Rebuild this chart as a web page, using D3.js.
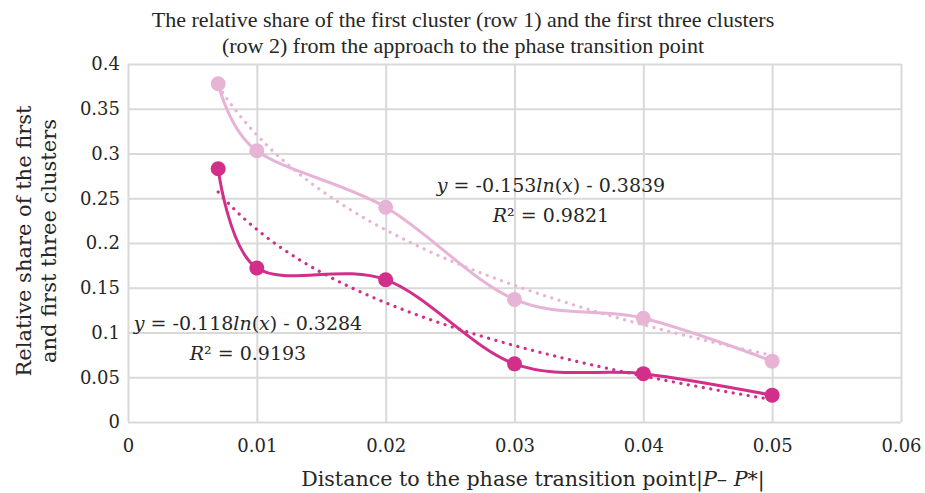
<!DOCTYPE html>
<html lang="en">

<head>
    <meta charset="UTF-8">
    <script src="https://cdn.jsdelivr.net/npm/d3@7"></script>
    <style>
        * {
            margin: 0;
            padding: 0;
        }

        body {
            background: #ffffff;
        }

        text {
            font-family: "DejaVu Serif", serif;
            fill: #262626;
        }
    </style>
    <title>Phase transition chart</title>
</head>

<body>
    <script>
        const width = 925;
        const height = 493;
        const margin = { left: 128, right: 24, top: 64, bottom: 71 };

        // data
        const distances = [0.007, 0.01, 0.02, 0.03, 0.04, 0.05];
        const rowTwo = [0.378, 0.303, 0.240, 0.137, 0.116, 0.068];   // first three clusters
        const rowOne = [0.283, 0.172, 0.159, 0.065, 0.054, 0.030];   // first cluster
        const xTicks = [0, 0.01, 0.02, 0.03, 0.04, 0.05, 0.06];
        const yTicks = [0, 0.05, 0.1, 0.15, 0.2, 0.25, 0.3, 0.35, 0.4];
        const yTickLabels = ["0", "0.05", "0.1", "0.15", "0..2", "0.25", "0.3", "0.35", "0.4"];
        // log trendlines as printed on the chart: y = a ln(x) + b
        const trendTwo = [-0.153, -0.3839];
        const trendOne = [-0.118, -0.3284];

        const lightColor = "#e8b4d6";
        const darkColor = "#d22f8a";

        const x = d3.scaleLinear().domain([0, 0.06]).range([margin.left, width - margin.right]);
        const y = d3.scaleLinear().domain([0, 0.4]).range([height - margin.bottom, margin.top]);

        const svg = d3.select("body")
            .append("svg")
            .attr("width", width)
            .attr("height", height);

        // grid
        const xAxis = svg.append("g")
            .attr("transform", `translate(0,${height - margin.bottom})`)
            .call(d3.axisBottom(x).tickValues(xTicks).tickSize(-(height - margin.top - margin.bottom))
                .tickFormat(d => d === 0 ? "0" : d3.format(".2f")(d)));
        xAxis.select(".domain").remove();
        xAxis.selectAll("line").attr("stroke", "#d9d9d9").attr("stroke-width", 2);
        xAxis.selectAll("text").attr("font-size", 18).attr("y", 30).attr("dy", 0).attr("fill", "#262626")
            .style("font-family", "DejaVu Serif");

        const yAxis = svg.append("g")
            .attr("transform", `translate(${margin.left},0)`)
            .call(d3.axisLeft(y).tickValues(yTicks).tickSize(-(width - margin.left - margin.right))
                .tickFormat((d, i) => yTickLabels[i]));
        yAxis.select(".domain").remove();
        yAxis.selectAll("line").attr("stroke", "#d9d9d9").attr("stroke-width", 2);
        yAxis.selectAll("text").attr("font-size", 18).attr("x", -8).attr("fill", "#262626")
            .style("font-family", "DejaVu Serif");

        // trendlines
        function trend(coef) {
            const xs = d3.range(distances[0], distances[distances.length - 1] + 1e-9, 0.0005);
            return xs.map(v => [v, coef[0] * Math.log(v) + coef[1]]);
        }
        const trendLine = d3.line().x(d => x(d[0])).y(d => y(d[1]));

        [[trendTwo, lightColor], [trendOne, darkColor]].forEach(([coef, color]) => {
            svg.append("path")
                .attr("d", trendLine(trend(coef)))
                .attr("fill", "none")
                .attr("stroke", color)
                .attr("stroke-width", 3.2)
                .attr("stroke-linecap", "round")
                .attr("stroke-dasharray", "0.1 7.5");
        });

        // smoothed series
        const smooth = d3.line()
            .x(d => x(d[0]))
            .y(d => y(d[1]))
            .curve(d3.curveCatmullRom.alpha(0));

        [[rowTwo, lightColor], [rowOne, darkColor]].forEach(([vals, color]) => {
            const pts = distances.map((d, i) => [d, vals[i]]);
            svg.append("path")
                .attr("d", smooth(pts))
                .attr("fill", "none")
                .attr("stroke", color)
                .attr("stroke-width", 3);
            svg.selectAll(null)
                .data(pts)
                .enter()
                .append("circle")
                .attr("cx", d => x(d[0]))
                .attr("cy", d => y(d[1]))
                .attr("r", 7.5)
                .attr("fill", color);
        });

        // equations
        function equation(cx, cy, a, b, r2) {
            const t = svg.append("text")
                .attr("x", cx).attr("y", cy)
                .attr("text-anchor", "middle")
                .attr("font-size", 19);
            t.append("tspan").attr("font-style", "italic").text("y");
            t.append("tspan").text(` = ${a}`);
            t.append("tspan").attr("font-style", "italic").text("ln");
            t.append("tspan").text("(");
            t.append("tspan").attr("font-style", "italic").text("x");
            t.append("tspan").text(`) - ${b}`);
            const r = svg.append("text")
                .attr("x", cx).attr("y", cy + 30)
                .attr("text-anchor", "middle")
                .attr("font-size", 19);
            r.append("tspan").attr("font-style", "italic").text("R");
            r.append("tspan").text(`² = ${r2}`);
        }
        equation(551, 192, trendTwo[0].toFixed(3), Math.abs(trendTwo[1]).toFixed(4), "0.9821");
        equation(248, 330, trendOne[0].toFixed(3), Math.abs(trendOne[1]).toFixed(4), "0.9193");

        // title
        svg.append("text")
            .attr("x", 463).attr("y", 27)
            .attr("text-anchor", "middle")
            .attr("font-size", 22)
            .style("font-family", "Liberation Serif")
            .text("The relative share of the first cluster (row 1) and the first three clusters");
        svg.append("text")
            .attr("x", 463).attr("y", 53)
            .attr("text-anchor", "middle")
            .attr("font-size", 22)
            .style("font-family", "Liberation Serif")
            .text("(row 2) from the approach to the phase transition point");

        // axis titles
        const xt = svg.append("text")
            .attr("x", 533).attr("y", 486)
            .attr("text-anchor", "middle")
            .attr("font-size", 20.6);
        xt.append("tspan").text("Distance to the phase transition point|");
        xt.append("tspan").attr("font-style", "italic").text("P");
        xt.append("tspan").text("– ");
        xt.append("tspan").attr("font-style", "italic").text("P");
        xt.append("tspan").text("*|");

        const yt = svg.append("text")
            .attr("transform", "translate(31,241) rotate(-90)")
            .attr("text-anchor", "middle")
            .attr("font-size", 21);
        yt.append("tspan").attr("x", 0).attr("dy", 0).text("Relative share of the first");
        yt.append("tspan").attr("x", 0).attr("dy", 25).text("and first three clusters");
    </script>
</body>

</html>
